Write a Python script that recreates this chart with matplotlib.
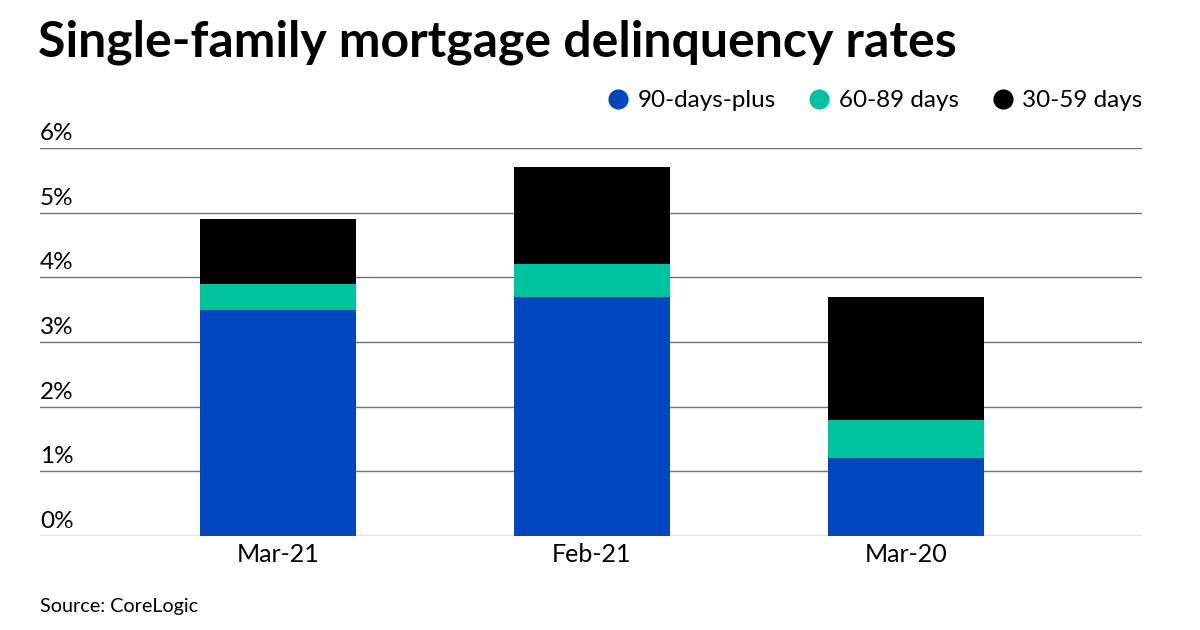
import numpy as np
import matplotlib.pyplot as plt
import matplotlib.transforms as mtransforms
from matplotlib.lines import Line2D

plt.rcParams['font.family'] = ['Lato', 'DejaVu Sans']

months = ["Mar-21", "Feb-21", "Mar-20"]
d90 = [3.5, 3.7, 1.2]      # 90-days-plus
d60 = [0.4, 0.5, 0.6]      # 60-89 days
d30 = [1.0, 1.5, 1.9]      # 30-59 days
series = ["90-days-plus", "60-89 days", "30-59 days"]
colors = ["#0047BF", "#00C29F", "#000000"]
yticks = [0, 1, 2, 3, 4, 5, 6]

fig = plt.figure(figsize=(12, 6.3), dpi=100)
ax = fig.add_axes([0.0333, 0.1492, 0.9184, 0.6159])

x = np.arange(len(months))
w = 0.497
b1 = np.array(d90)
b2 = b1 + np.array(d60)
ax.bar(x, d90, w, color=colors[0], zorder=3)
ax.bar(x, d60, w, bottom=b1, color=colors[1], zorder=3)
ax.bar(x, d30, w, bottom=b2, color=colors[2], zorder=3)

ax.set_xlim(-0.758, 2.752)
ax.set_ylim(0, 6)
ax.set_yticks(yticks)
ax.set_yticklabels([])
ax.tick_params(axis="y", length=0)
ax.yaxis.grid(True, color="#707070", lw=1, zorder=1)
ax.set_xticks(x)
ax.set_xticklabels(months, fontsize=18)
ax.tick_params(axis="x", length=0, pad=5)
for s in ["top", "right", "left", "bottom"]:
    ax.spines[s].set_visible(False)

trans = mtransforms.blended_transform_factory(ax.transAxes, ax.transData)
for t in yticks:
    ax.text(0, t + 0.06, f"{t}%", transform=trans, ha="left", va="bottom", fontsize=17.5)

fig.text(0.032, 0.933, "Single-family mortgage delinquency rates", fontsize=36,
         fontweight="bold", ha="left", va="center")
fig.text(0.033, 0.037, "Source: CoreLogic", fontsize=14.2, ha="left", va="center")

handles = [Line2D([], [], marker="o", ls="", color=c, markersize=13.5) for c in colors]
fig.legend(handles, series, loc="center right", bbox_to_anchor=(0.962, 0.84), ncol=3,
           frameon=False, fontsize=17.5, handletextpad=0.25, columnspacing=1.25,
           handlelength=1.1, borderpad=0)

fig.savefig("out.png", dpi=100)
